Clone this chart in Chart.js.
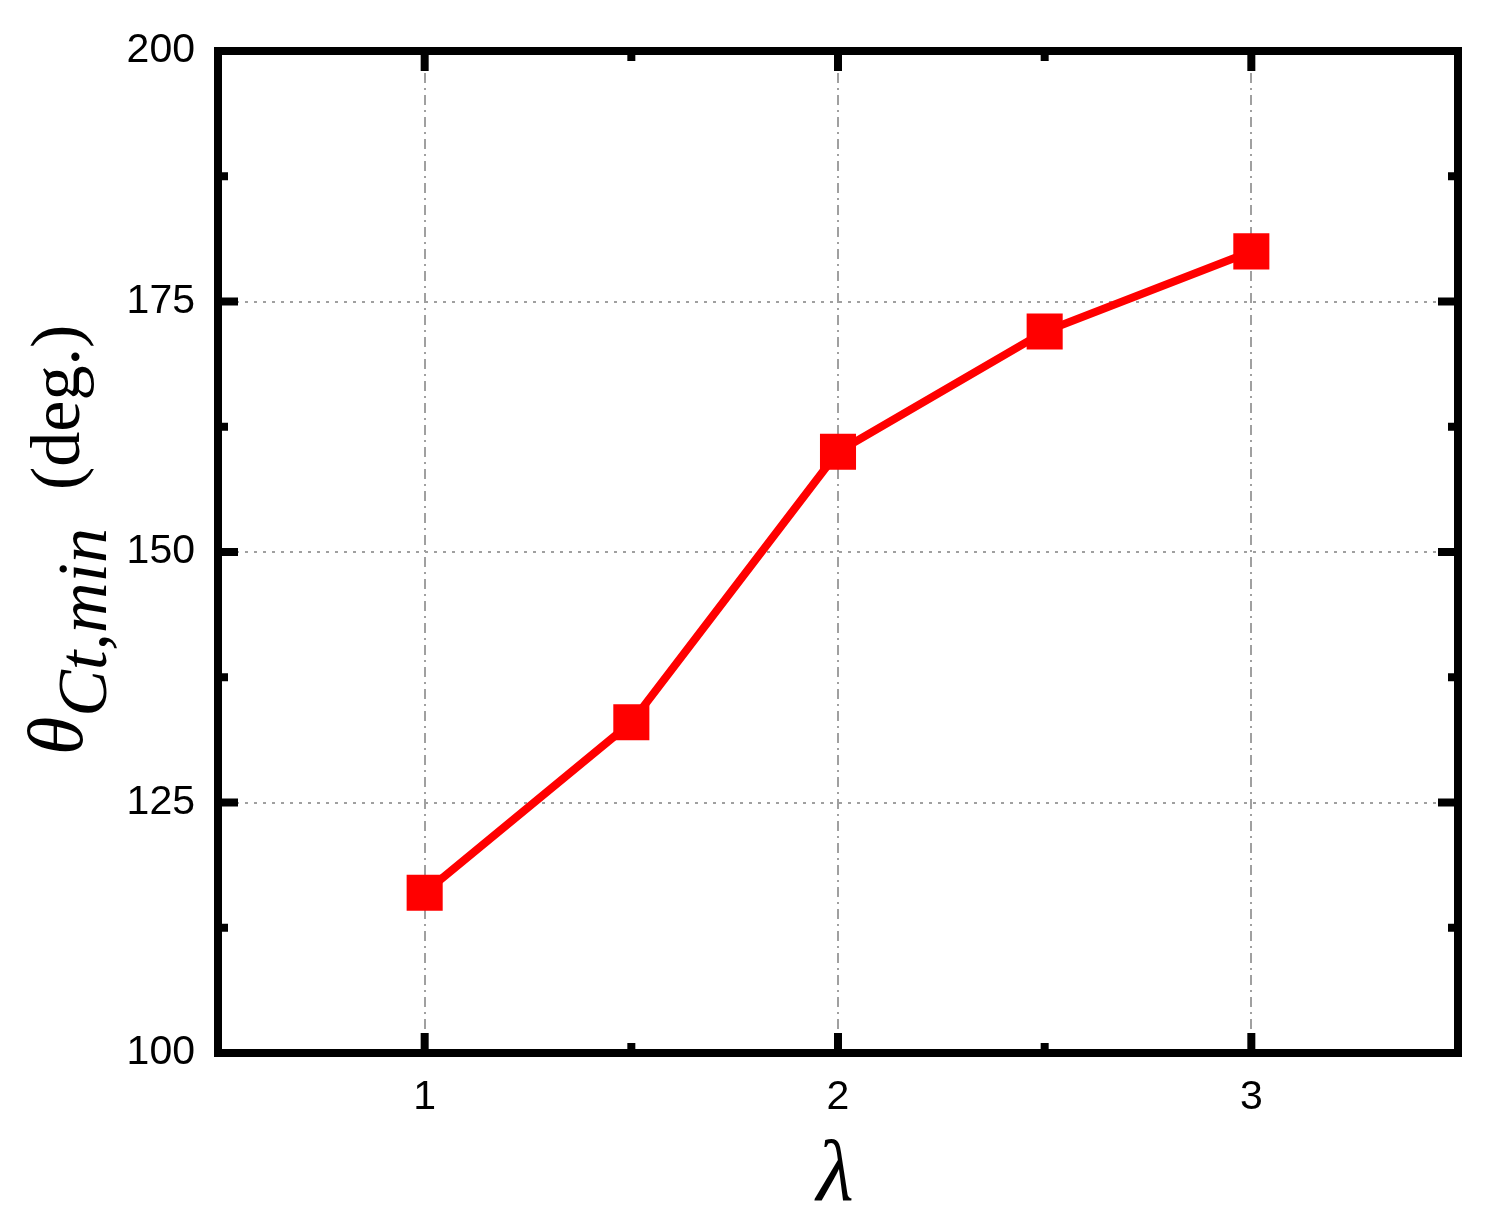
<!DOCTYPE html>
<html><head><meta charset="utf-8">
<script src="https://cdn.jsdelivr.net/npm/chart.js@4"></script>
<style>html,body{margin:0;padding:0;background:#fff}#wrap{width:1489px;height:1223px}</style>
</head><body><div id="wrap"><canvas id="c" width="1489" height="1223"></canvas></div>
<script>
const lambdaValues = [1, 1.5, 2, 2.5, 3];
const thetaValues = [116, 133, 160, 172, 180];
const xMajorTicks = [1, 2, 3];
const xMinorTicks = [1.5, 2.5];
const yMajorTicks = [100, 125, 150, 175, 200];
const yMinorTicks = [112.5, 137.5, 162.5, 187.5];
const xTitle = 'λ';
const yTitleSymbol = 'θ';
const yTitleSub = 'Ct,min';
const yTitleUnit = '(deg.)';

const framePlugin = {
  id: 'frame',
  afterDatasetsDraw(chart) {
    const {ctx, chartArea: a, scales: {x, y}} = chart;
    ctx.save();
    ctx.strokeStyle = '#000';
    ctx.lineWidth = 8;
    ctx.strokeRect(a.left, a.top, a.right - a.left, a.bottom - a.top);
    ctx.fillStyle = '#000';
    const tw = 8;
    const xt = (v, len) => {
      const px = x.getPixelForValue(v);
      ctx.fillRect(px - tw / 2, a.bottom - len, tw, len);
      ctx.fillRect(px - tw / 2, a.top, tw, len);
    };
    const yt = (v, len) => {
      const py = y.getPixelForValue(v);
      ctx.fillRect(a.left, py - tw / 2, len, tw);
      ctx.fillRect(a.right - len, py - tw / 2, len, tw);
    };
    xMajorTicks.forEach(v => xt(v, 20));
    xMinorTicks.forEach(v => xt(v, 10));
    yMajorTicks.forEach(v => yt(v, 20));
    yMinorTicks.forEach(v => yt(v, 10));
    ctx.restore();
  },
  afterDraw(chart) {
    const {ctx} = chart;
    ctx.save();
    ctx.fillStyle = '#000';
    ctx.textBaseline = 'alphabetic';
    ctx.textAlign = 'center';
    ctx.font = 'italic 86px "Liberation Serif"';
    ctx.fillText(xTitle, 835, 1200);
    ctx.textAlign = 'left';
    ctx.rotate(-Math.PI / 2);
    ctx.font = 'italic 78px "Liberation Serif"';
    let pos = -755;
    ctx.fillText(yTitleSymbol, pos, 82);
    pos += ctx.measureText(yTitleSymbol).width;
    ctx.font = 'italic 70px "Liberation Serif"';
    ctx.fillText(yTitleSub, pos, 106);
    ctx.font = '70px "Liberation Serif"';
    ctx.fillText(yTitleUnit, -490, 79);
    ctx.restore();
  }
};

new Chart(document.getElementById('c'), {
  type: 'line',
  data: {
    datasets: [{
      data: lambdaValues.map((v, i) => ({x: v, y: thetaValues[i]})),
      borderColor: '#ff0000',
      backgroundColor: '#ff0000',
      borderWidth: 8,
      pointStyle: 'rect',
      pointRadius: 25.5,
      pointBorderWidth: 0,
      pointBackgroundColor: '#ff0000',
      tension: 0,
      clip: false
    }]
  },
  options: {
    responsive: false,
    animation: false,
    devicePixelRatio: 1,
    layout: {padding: {left: 0, top: 51, right: 31, bottom: 0}},
    plugins: {legend: {display: false}, tooltip: {enabled: false}},
    scales: {
      x: {
        type: 'linear', min: 0.5, max: 3.5,
        afterBuildTicks(s) { s.ticks = xMajorTicks.map(v => ({value: v})); },
        afterFit(s) { s.height = 170; },
        ticks: {color: '#000', padding: 20,
          font: {family: '"Liberation Sans"', size: 41}},
        grid: {drawTicks: false, lineWidth: 2, color: '#a0a0a0'},
        border: {display: false, dash: [10, 5, 2, 5]}
      },
      y: {
        type: 'linear', min: 100, max: 200,
        afterBuildTicks(s) { s.ticks = yMajorTicks.map(v => ({value: v})); },
        afterFit(s) { s.width = 218; },
        ticks: {color: '#000', padding: 23,
          font: {family: '"Liberation Sans"', size: 41}},
        grid: {drawTicks: false, lineWidth: 2,
          color: c => (c.tick && (c.tick.value === 100 || c.tick.value === 200)) ? 'rgba(0,0,0,0)' : '#a0a0a0'},
        border: {display: false, dash: [3, 6]}
      }
    }
  },
  plugins: [framePlugin]
});
</script></body></html>
